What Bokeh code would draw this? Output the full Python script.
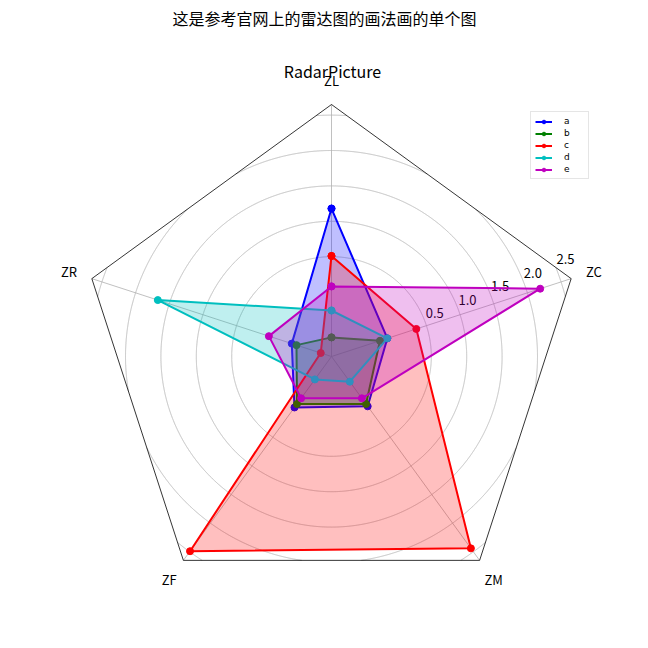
import numpy as np
from bokeh.plotting import figure
from bokeh.models import Range1d, Legend, LegendItem
from bokeh.core.properties import value
from bokeh.embed import file_html
from bokeh.resources import INLINE

# ---- data ----
spoke_labels = ["ZL", "ZR", "ZF", "ZM", "ZC"]
series_names = ["a", "b", "c", "d", "e"]
a = [1.18, -0.32, -0.02, -0.04, -0.08]
b = [-0.64, -0.39, -0.08, -0.08, -0.19]
c = [0.51, -0.75, 2.49, 2.44, 0.35]
d = [-0.26, 1.67, -0.51, -0.47, -0.08]
e = [0.08, 0.02, -0.18, -0.18, 2.19]
rgrid = [0.5, 1.0, 1.5, 2.0, 2.5]
rgrid_labels = ["0.5", "1.0", "1.5", "2.0", "2.5"]
r_min, r_max = -0.91, 2.65
suptitle = "这是参考官网上的雷达图的画法画的单个图"
axtitle = "RadarPicture"

series = [a, b, c, d, e]
colors = ["#0000ff", "#008000", "#ff0000", "#00bfbf", "#bf00bf"]

FONT_NAME = "Noto Sans CJK SC"
FONT = value(FONT_NAME)
N = len(spoke_labels)
theta = np.pi / 2 + 2 * np.pi * np.arange(N) / N  # counter-clockwise from top


def rnorm(v):
    return (np.asarray(v, dtype=float) - r_min) / (r_max - r_min)


# canvas: 648 px, outer radius 252 px, centre at (331, 356) px from top-left
R = 252.0
p = figure(width=648, height=648, output_backend="svg", toolbar_location=None,
           x_range=Range1d(-331 / R, 317 / R), y_range=Range1d(-292 / R, 356 / R),
           min_border=0, x_axis_location=None, y_axis_location=None)
p.grid.visible = False
p.outline_line_color = None
p.background_fill_color = "white"

# ---- grid circles clipped to pentagon ----
normals = theta + np.pi / N
inr = np.cos(np.pi / N)
phi = np.linspace(0, 2 * np.pi, 3601)
xs_g, ys_g = [], []
for rg in rgrid:
    rr = rnorm(rg)
    px, py = rr * np.cos(phi), rr * np.sin(phi)
    inside = np.all([px * np.cos(nm) + py * np.sin(nm) <= inr for nm in normals], axis=0)
    seg_x, seg_y = [], []
    for i in range(len(phi)):
        if inside[i]:
            seg_x.append(px[i]); seg_y.append(py[i])
        else:
            if len(seg_x) > 1:
                xs_g.append(seg_x); ys_g.append(seg_y)
            seg_x, seg_y = [], []
    if len(seg_x) > 1:
        xs_g.append(seg_x); ys_g.append(seg_y)
p.multi_line(xs_g, ys_g, line_color="#b0b0b0", line_width=0.8)

# spokes
p.multi_line([[0, np.cos(t)] for t in theta], [[0, np.sin(t)] for t in theta],
             line_color="#b0b0b0", line_width=0.8)

# frame
fx = list(np.cos(theta)) + [np.cos(theta[0])]
fy = list(np.sin(theta)) + [np.sin(theta[0])]
p.line(fx, fy, line_color="black", line_width=0.8)

# radial labels
ang = np.deg2rad(22.5)
p.text(x=[rnorm(v) * np.cos(ang) for v in rgrid], y=[rnorm(v) * np.sin(ang) for v in rgrid],
       text=rgrid_labels, text_font=FONT, text_font_size="13px", text_color="black",
       text_align="left", text_baseline="bottom", x_offset=2)

# spoke labels
lr = 276 / R
p.text(x=[lr * np.cos(t) for t in theta], y=[lr * np.sin(t) for t in theta],
       text=spoke_labels, text_font=FONT, text_font_size="13px", text_color="black",
       text_align="center", text_baseline="middle")

# ---- series ----
items = []
for name, vals, col in zip(series_names, series, colors):
    rr = rnorm(vals)
    x = list(rr * np.cos(theta)) + [rr[0] * np.cos(theta[0])]
    y = list(rr * np.sin(theta)) + [rr[0] * np.sin(theta[0])]
    ln = p.line(x, y, line_color=col, line_width=2)
    sc = p.scatter(x, y, marker="circle", size=7, fill_color=col, line_color=col)
    p.patch(x, y, fill_color=col, fill_alpha=0.25, line_color=None)
    items.append(LegendItem(label=name, renderers=[ln, sc]))

legend = Legend(items=items, location=(530, 469), label_text_font="DejaVu Sans",
                label_text_font_size="9px", label_text_color="black",
                glyph_width=17, glyph_height=9,
                label_height=9, spacing=2, padding=4, margin=0, label_standoff=12,
                border_line_color="#cccccc", border_line_width=1,
                background_fill_alpha=0.8)
p.add_layout(legend)

# titles
p.text(x=[-7 / R], y=[(356 - 17) / R], text=[suptitle], text_font=FONT,
       text_font_size="16px", text_color="black", text_align="center", text_baseline="middle")
p.text(x=[1 / R], y=[(356 - 70) / R], text=[axtitle], text_font=FONT,
       text_font_size="16px", text_color="black", text_align="center", text_baseline="middle")

open("out.html", "w").write(file_html(p, INLINE))
